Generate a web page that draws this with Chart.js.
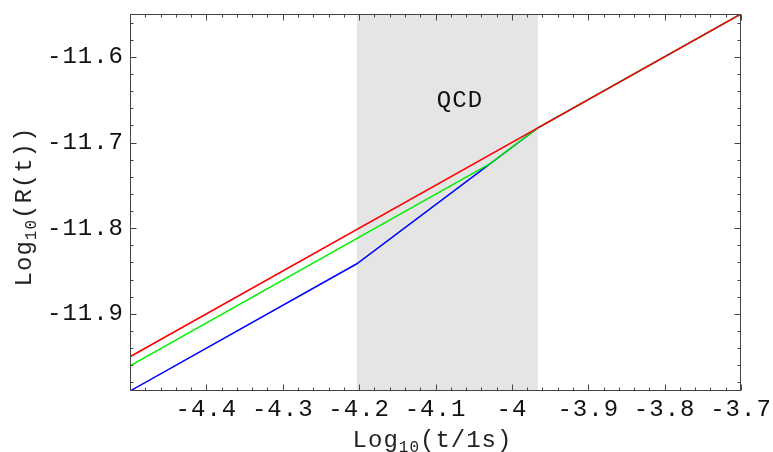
<!DOCTYPE html>
<html>
<head>
<meta charset="utf-8">
<script src="https://cdn.jsdelivr.net/npm/chart.js@4/dist/chart.umd.min.js"></script>
<style>
  html, body { margin: 0; padding: 0; background: #fff; }
  #wrap { width: 773px; height: 452px; }
</style>
</head>
<body>
<div id="wrap"><canvas id="c" width="773" height="452"></canvas></div>
<script>
// Axis ranges and labelled ticks (log10 of time in s, log10 of scale factor)
const xRange = [-4.5, -3.7];
const yRange = [-11.99, -11.55];
const xTicks = [-4.4, -4.3, -4.2, -4.1, -4, -3.9, -3.8, -3.7];
const yTicks = [-11.9, -11.8, -11.7, -11.6];

// Shaded QCD transition window
const qcdBand = [-4.203, -3.966];
const qcdLabel = { text: 'QCD', x: -4.068, y: -11.649 };

// Curves: log10 R(t) versus log10 t
const redX   = [-4.5, -3.7];
const redY   = [-11.95, -11.55];
const greenX = [-4.5, -4.029, -3.966, -3.7];
const greenY = [-11.9606, -11.725, -11.683, -11.55];
const blueX  = [-4.5, -4.203, -3.966, -3.7];
const blueY  = [-11.99, -11.8415, -11.683, -11.55];

const FONT = '"Liberation Mono", "DejaVu Sans Mono", monospace';
const MAIN_SIZE = 24;
const SUB_SIZE = 16;
const SPACING = '1px';

const pts = (xs, ys) => xs.map((x, i) => ({ x, y: ys[i] }));

function drawRich(ctx, parts, x, y) {
  // parts: [{t, size, dy}] drawn left to right, centred around x
  let total = 0;
  parts.forEach(p => {
    ctx.font = p.size + 'px ' + FONT;
    p.w = ctx.measureText(p.t).width;
    total += p.w;
  });
  let cx = x - total / 2;
  ctx.textAlign = 'left';
  ctx.textBaseline = 'alphabetic';
  parts.forEach(p => {
    ctx.font = p.size + 'px ' + FONT;
    ctx.fillText(p.t, cx, y + (p.dy || 0));
    cx += p.w;
  });
}

const decorations = {
  id: 'decorations',
  beforeDraw(chart) {
    chart.ctx.letterSpacing = SPACING;
  },
  beforeDatasetsDraw(chart) {
    const { ctx, chartArea: a, scales: { x } } = chart;
    const x0 = x.getPixelForValue(qcdBand[0]);
    const x1 = x.getPixelForValue(qcdBand[1]);
    ctx.save();
    ctx.fillStyle = '#e5e5e5';
    ctx.fillRect(x0, a.top, x1 - x0, a.bottom - a.top);
    ctx.restore();
  },
  afterDatasetsDraw(chart) {
    const { ctx, chartArea: a, scales: { x, y } } = chart;
    ctx.save();
    ctx.letterSpacing = SPACING;

    // frame
    ctx.strokeStyle = '#444';
    ctx.lineWidth = 1;
    const L = Math.round(a.left) + 0.5, R = Math.round(a.right) - 0.5;
    const T = Math.round(a.top) + 0.5, B = Math.round(a.bottom) - 0.5;
    ctx.strokeRect(L, T, R - L, B - T);

    // inward tick marks on all four sides
    ctx.beginPath();
    for (let i = 0; i <= 40; i++) {
      const v = xRange[0] + i * 0.02;
      const px = Math.round(x.getPixelForValue(v)) + 0.5;
      const len = i % 5 === 0 ? 6 : 3;
      ctx.moveTo(px, B); ctx.lineTo(px, B - len);
      ctx.moveTo(px, T); ctx.lineTo(px, T + len);
    }
    for (let i = 0; i <= 21; i++) {
      const v = -11.98 + i * 0.02;
      const py = Math.round(y.getPixelForValue(v)) + 0.5;
      const len = Math.round(v * 100) % 10 === 0 ? 6 : 3;
      ctx.moveTo(L, py); ctx.lineTo(L + len, py);
      ctx.moveTo(R, py); ctx.lineTo(R - len, py);
    }
    ctx.stroke();

    // band label
    ctx.fillStyle = '#111';
    ctx.font = MAIN_SIZE + 'px ' + FONT;
    ctx.textAlign = 'center';
    ctx.textBaseline = 'alphabetic';
    ctx.fillText(qcdLabel.text, x.getPixelForValue(qcdLabel.x), y.getPixelForValue(qcdLabel.y) + 8);

    // axis titles
    ctx.fillStyle = '#222';
    drawRich(ctx, [
      { t: 'Log', size: MAIN_SIZE },
      { t: '10', size: SUB_SIZE, dy: 5 },
      { t: '(t/1s)', size: MAIN_SIZE }
    ], (a.left + a.right) / 2 - 3, 447);

    ctx.save();
    ctx.translate(31, (a.top + a.bottom) / 2 + 4);
    ctx.rotate(-Math.PI / 2);
    drawRich(ctx, [
      { t: 'Log', size: MAIN_SIZE },
      { t: '10', size: SUB_SIZE, dy: 5 },
      { t: '(R(t))', size: MAIN_SIZE }
    ], 0, 0);
    ctx.restore();

    ctx.restore();
  }
};

const line = (label, color, xs, ys) => ({
  label,
  data: pts(xs, ys),
  borderColor: color,
  backgroundColor: color,
  borderWidth: 1.5,
  showLine: true,
  pointRadius: 0,
  tension: 0,
  fill: false
});

new Chart(document.getElementById('c'), {
  type: 'scatter',
  data: {
    datasets: [
      line('red', '#ff0000', redX, redY),
      line('green', '#00f000', greenX, greenY),
      line('blue', '#0000ff', blueX, blueY)
    ]
  },
  options: {
    responsive: false,
    animation: false,
    devicePixelRatio: 1,
    layout: { padding: { top: 14, right: 32, left: 0, bottom: 0 } },
    plugins: { legend: { display: false }, tooltip: { enabled: false } },
    scales: {
      x: {
        type: 'linear',
        min: xRange[0], max: xRange[1],
        afterBuildTicks: s => { s.ticks = xTicks.map(v => ({ value: v })); },
        afterFit: s => { s.height = 61; s.paddingLeft = 0; s.paddingRight = 0; },
        grid: { display: false, drawTicks: false },
        border: { display: false },
        ticks: {
          autoSkip: false, maxRotation: 0, padding: 4,
          color: '#111',
          font: { family: FONT, size: MAIN_SIZE },
          callback: v => String(v)
        }
      },
      y: {
        type: 'linear',
        min: yRange[0], max: yRange[1],
        afterBuildTicks: s => { s.ticks = yTicks.map(v => ({ value: v })); },
        afterFit: s => { s.width = 130; s.paddingTop = 0; s.paddingBottom = 0; },
        grid: { display: false, drawTicks: false },
        border: { display: false },
        ticks: {
          autoSkip: false, padding: 6,
          color: '#111',
          font: { family: FONT, size: MAIN_SIZE },
          callback: v => String(v)
        }
      }
    }
  },
  plugins: [decorations]
});
</script>
</body>
</html>
